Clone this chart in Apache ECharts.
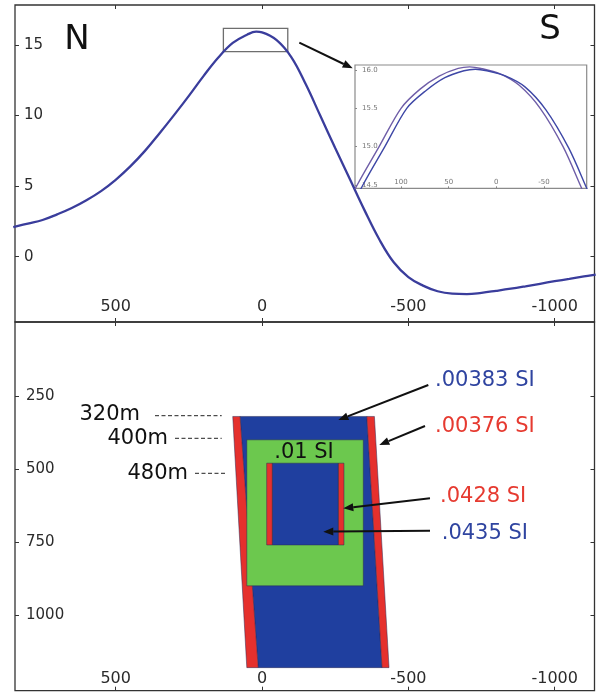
<!DOCTYPE html>
<html><head><meta charset="utf-8">
<script src="https://cdn.jsdelivr.net/npm/echarts@6/dist/echarts.min.js"></script>
<style>html,body{margin:0;padding:0;background:#fff}#c{width:596px;height:693px}</style>
</head><body><div id="c"></div>
<script>
// ---- Top panel: magnetic profile (x = distance, reversed; y = anomaly)
const profileX = [850,800,750,700,650,600,550,500,450,400,350,300,250,200,150,100,50,20,0,-50,-100,-150,-200,-250,-300,-350,-400,-450,-500,-550,-600,-650,-700,-750,-800,-850,-900,-950,-1000,-1050,-1100,-1140];
const profileY = [2.1,2.35,2.6,3.0,3.45,4.0,4.65,5.45,6.4,7.5,8.75,10.05,11.4,12.8,14.1,15.15,15.75,15.95,15.9,15.35,14.15,12.2,9.95,7.7,5.5,3.3,1.25,-0.4,-1.45,-2.05,-2.45,-2.62,-2.65,-2.56,-2.42,-2.27,-2.1,-1.92,-1.74,-1.57,-1.4,-1.27];
const topXTicks = [500,0,-500,-1000];
const topYTicks = [0,5,10,15];
// zoom window shown on the top panel
const zoomBoxX = [132,-88];
const zoomBoxY = [14.53,16.19];

// ---- Inset: two curves near the peak
const insetX1 = [160,146,123,100,80,60,40,28,16,-4,-24,-46,-70,-88,-100];
const insetY1 = [14.15,14.5,15.0,15.5,15.75,15.92,16.02,16.04,16.02,15.95,15.8,15.5,15.0,14.5,14.15];
const insetX2 = [154,140,117,94,74,54,34,22,10,-10,-30,-52,-76,-94,-106];
const insetY2 = [14.15,14.5,15.0,15.5,15.73,15.9,15.99,16.01,15.99,15.92,15.78,15.48,14.98,14.48,14.13];
const insetXTicks = [100,50,0,-50];
const insetYTicks = [14.5,15.0,15.5,16.0];

// ---- Bottom panel: model body polygons (x, depth)
const bodyBlue = [[75,320],[-358,320],[-410,1180],[13,1180]];
const bodyLeftRed = [[100,320],[75,320],[13,1180],[52,1180]];
const bodyRightRed = [[-358,320],[-384,320],[-434,1180],[-410,1180]];
const greenBlock = [[52,400],[-346,400],[-346,900],[52,900]];
const coreBlue = [[-35,480],[-261,480],[-261,760],[-35,760]];
const coreLeftRed = [[-16,480],[-35,480],[-35,760],[-16,760]];
const coreRightRed = [[-261,480],[-280,480],[-280,760],[-261,760]];
const bottomXTicks = [500,0,-500,-1000];
const bottomYTicks = [250,500,750,1000];

const BLUE = '#1f3f9f', RED = '#e5302d', GREEN = '#6cc84e';
const shapes = [bodyBlue, bodyLeftRed, bodyRightRed, greenBlock, coreBlue, coreLeftRed, coreRightRed];
const shapeColors = [BLUE, RED, RED, GREEN, BLUE, RED, RED];

const FONT = 'DejaVu Sans';
const chart = echarts.init(document.getElementById('c'), null, {renderer:'canvas'});

function labelAxis(gridIndex, pos, min, max, ticks, opts) {
  opts = opts || {};
  return {
    type:'value', gridIndex, position:pos, min, max, inverse: !!opts.inverse,
    splitLine:{show:false},
    axisLine:{show:false, onZero:false},
    axisTick:{show:true, inside:true, length: opts.tickLen||4, customValues:ticks, lineStyle:{color:opts.tickColor||'#333', width:1}},
    axisLabel:{show:true, inside:true, customValues:ticks, margin: opts.margin||8,
      fontFamily:FONT, fontSize: opts.fontSize||16, color: opts.labelColor||'#2b2b2b',
      formatter: opts.formatter || (v=>String(v))}
  };
}
function tickAxis(gridIndex, pos, min, max, ticks, opts) {
  opts = opts || {};
  return {
    type:'value', gridIndex, position:pos, min, max, inverse: !!opts.inverse,
    splitLine:{show:false}, axisLine:{show:false, onZero:false},
    axisTick:{show:true, inside:true, length:4, customValues:ticks, lineStyle:{color:'#333', width:1}},
    axisLabel:{show:false}
  };
}

const TX = [-1136, 844];
const option = {
  animation:false,
  backgroundColor:'#fff',
  grid:[
    {left:15, top:5, width:579.5, height:317, show:true, borderColor:'#333', borderWidth:1.3, backgroundColor:'transparent'},
    {left:15, top:322, width:579.5, height:368.7, show:true, borderColor:'#333', borderWidth:1.3, backgroundColor:'transparent'},
    {left:355, top:65, width:231.7, height:123.3, show:true, borderColor:'#8a8a8a', borderWidth:1.2, backgroundColor:'transparent'}
  ],
  xAxis:[
    labelAxis(0,'bottom',TX[0],TX[1],topXTicks,{inverse:true, margin:7}),
    tickAxis(0,'top',TX[0],TX[1],topXTicks,{inverse:true}),
    labelAxis(1,'bottom',TX[0],TX[1],bottomXTicks,{inverse:true, margin:4}),
    tickAxis(1,'top',TX[0],TX[1],bottomXTicks,{inverse:true}),
    labelAxis(2,'bottom',-94.8,148.3,insetXTicks,{inverse:true, margin:3, fontSize:7, labelColor:'#777', tickLen:2, tickColor:'#888'})
  ],
  yAxis:[
    labelAxis(0,'left',-4.63,17.84,topYTicks,{margin:9, fontSize:15}),
    tickAxis(0,'right',-4.63,17.84,topYTicks),
    labelAxis(1,'left',-3.4,1259,bottomYTicks,{inverse:true, margin:11, fontSize:15}),
    tickAxis(1,'right',-3.4,1259,bottomYTicks,{inverse:true}),
    labelAxis(2,'left',14.457,16.065,insetYTicks,{margin:7, fontSize:7, labelColor:'#777', tickLen:2, tickColor:'#888',
      formatter:v=>Number(v).toFixed(1)})
  ],
  series:[
    {type:'line', xAxisIndex:0, yAxisIndex:0, smooth:0.4, symbol:'none',
     data: profileX.map((x,i)=>[x, profileY[i]]),
     lineStyle:{color:'#3a3d9c', width:2.3}},
    {type:'custom', xAxisIndex:0, yAxisIndex:0, data:[[zoomBoxX[0], zoomBoxY[0]]],
     renderItem:(params, api)=>{
       const a = api.coord([zoomBoxX[0], zoomBoxY[1]]);
       const b = api.coord([zoomBoxX[1], zoomBoxY[0]]);
       return {type:'rect', shape:{x:a[0], y:a[1], width:b[0]-a[0], height:b[1]-a[1]},
         style:{fill:'none', stroke:'#6e6e6e', lineWidth:1.3}};
     }},
    {type:'line', xAxisIndex:4, yAxisIndex:4, smooth:0.3, symbol:'none', clip:true,
     data: insetX1.map((x,i)=>[x, insetY1[i]]),
     lineStyle:{color:'#6f5ea8', width:1.4}},
    {type:'line', xAxisIndex:4, yAxisIndex:4, smooth:0.3, symbol:'none', clip:true,
     data: insetX2.map((x,i)=>[x, insetY2[i]]),
     lineStyle:{color:'#3e47a6', width:1.4}},
    {type:'custom', xAxisIndex:2, yAxisIndex:2, clip:true,
     data: shapes.map(s=>s[0]),
     renderItem:(params, api)=>{
       const poly = shapes[params.dataIndex];
       return {type:'polygon', shape:{points: poly.map(p=>api.coord(p))},
         style:{fill: shapeColors[params.dataIndex], stroke:'#2a2a55', lineWidth:0.5}};
     }}
  ],
  graphic: buildGraphic()
};

function arrow(x1,y1,x2,y2){
  const ang = Math.atan2(y2-y1, x2-x1), L = 10, W = 4;
  const bx = x2 - L*Math.cos(ang), by = y2 - L*Math.sin(ang);
  const px = -Math.sin(ang)*W, py = Math.cos(ang)*W;
  return [
    {type:'line', shape:{x1, y1, x2:bx, y2:by}, style:{stroke:'#111', lineWidth:2}, z:100},
    {type:'polygon', shape:{points:[[x2,y2],[bx+px,by+py],[bx-px,by-py]]}, style:{fill:'#111'}, z:100}
  ];
}
function txt(x,y,t,size,color,align){
  return {type:'text', x, y, z:100, style:{text:t, font:`${size}px "${FONT}"`, fill:color, textAlign:align||'left', textVerticalAlign:'middle'}};
}
function dash(x1,x2,y){
  return {type:'line', z:100, shape:{x1,y1:y,x2,y2:y}, style:{stroke:'#222', lineWidth:1, lineDash:[4,2.5]}};
}
function buildGraphic(){
  const TB = '#2f44a0', TR = '#e63a30';
  return [
    txt(77,40,'N',34,'#111','center'),
    txt(550,30,'S',34,'#111','center'),
    ...arrow(299.3,42.7,352.7,68.3),
    txt(140,414.5,'320m',21,'#111','right'),
    txt(168,438.5,'400m',21,'#111','right'),
    txt(188,473.5,'480m',21,'#111','right'),
    dash(155,221.7,415.7), dash(175,221.7,438.3), dash(195,225,473.3),
    txt(304,452.5,'.01 SI',21,'#111','center'),
    txt(435,381,'.00383 SI',21,TB),
    txt(435,426.5,'.00376 SI',21,TR),
    txt(440,497,'.0428 SI',21,TR),
    txt(441.7,534,'.0435 SI',21,TB),
    ...arrow(428.3,385,338.3,420),
    ...arrow(425,426,379.3,445),
    ...arrow(430,498.3,343.3,508.3),
    ...arrow(430,530.7,323.3,531.7)
  ];
}
chart.setOption(option);
</script>
</body></html>
